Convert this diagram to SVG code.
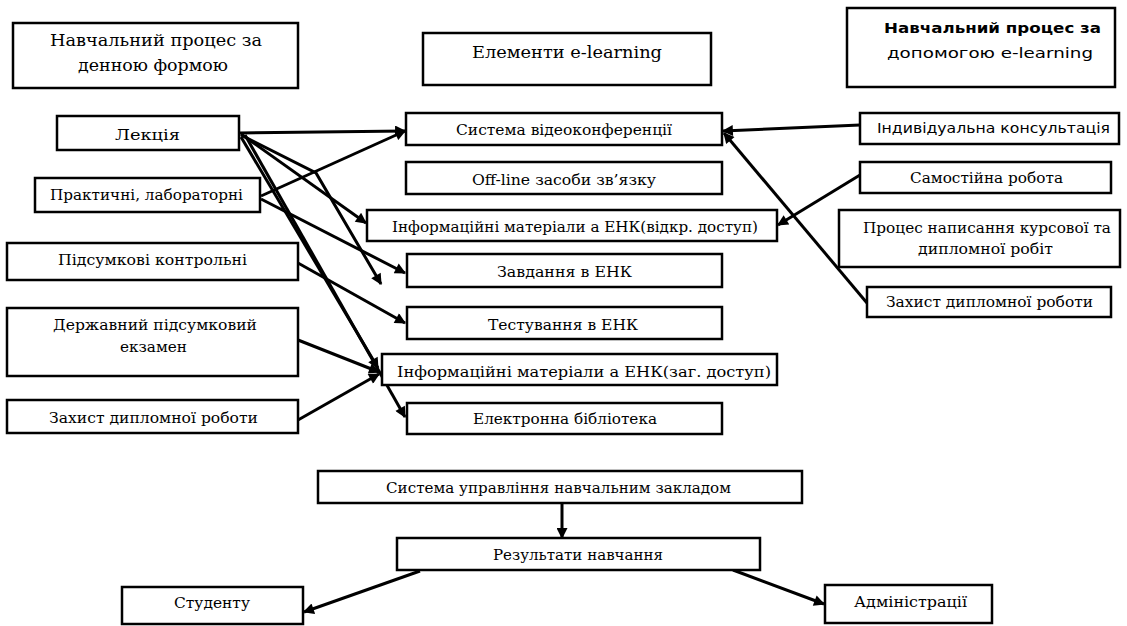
<svg xmlns="http://www.w3.org/2000/svg" width="1127" height="626" viewBox="0 0 1127 626">
<defs>
<style>
.b{fill:#fff;stroke:#000;stroke-width:2.5}
.t{font-family:'DejaVu Serif','Liberation Serif',serif;font-size:14.5px;fill:#000}
.h{font-family:'DejaVu Serif','Liberation Serif',serif;font-size:17.5px;fill:#000}
.s{font-family:'DejaVu Sans','Liberation Sans',sans-serif;font-size:14px;fill:#000}
.c{fill:none;stroke:#000;stroke-width:3;marker-end:url(#ah)}
</style>
<marker id="ah" viewBox="0 0 10 10" refX="9" refY="5" markerWidth="13" markerHeight="11" markerUnits="userSpaceOnUse" orient="auto"><path d="M0,0 L10,5 L0,10 z" fill="#000"/></marker>
</defs>
<rect width="1127" height="626" fill="#fff"/>

<g id="connectors">
<path class="c" d="M240,133 L405,131"/>
<path class="c" d="M261,196 L405,131"/>
<path class="c" d="M241,134 L366,223"/>
<path class="c" d="M241,135 L316,173 L381,284"/>
<path class="c" d="M241,137 L378,368"/>
<path class="c" d="M245,135 L405,417"/>
<path class="c" d="M261,199 L405,273"/>
<path class="c" d="M298,263 L405,323"/>
<path class="c" d="M298,340 L379,372"/>
<path class="c" d="M298,420 L379,374"/>
<path class="c" d="M860,125 L723,131"/>
<path class="c" d="M860,175 L778,225"/>
<path class="c" d="M867,303 L724,133"/>
<path class="c" d="M562,503 L562,538"/>
<path class="c" d="M420,571 L304,612"/>
<path class="c" d="M733,570 L824,604"/>
</g>

<g id="title-left"><rect class="b" x="13" y="23" width="285" height="65"/>
<text class="h" x="50" y="46" textLength="212" lengthAdjust="spacingAndGlyphs">Навчальний процес за</text>
<text class="h" x="78" y="71" textLength="150" lengthAdjust="spacingAndGlyphs">денною формою</text></g>

<g id="title-mid"><rect class="b" x="423" y="33" width="288" height="52"/>
<text class="h" x="472" y="58" textLength="190" lengthAdjust="spacingAndGlyphs">Елементи e-learning</text></g>

<g id="title-right"><rect class="b" x="847" y="8" width="268" height="79"/>
<text class="s" x="884" y="33" font-weight="bold" textLength="217" lengthAdjust="spacingAndGlyphs">Навчальний процес за</text>
<text class="s" x="887" y="58" textLength="206" lengthAdjust="spacingAndGlyphs">допомогою e-learning</text></g>

<g id="lektsiia"><rect class="b" x="57" y="116" width="182" height="34"/>
<text class="t" x="115" y="140" textLength="65" lengthAdjust="spacingAndGlyphs">Лекція</text></g>

<g id="praktychni"><rect class="b" x="35" y="178" width="225" height="34"/>
<text class="t" x="50" y="200" textLength="193" lengthAdjust="spacingAndGlyphs">Практичні, лабораторні</text></g>

<g id="pidsumkovi"><rect class="b" x="7" y="243" width="291" height="37"/>
<text class="t" x="58" y="265" textLength="189" lengthAdjust="spacingAndGlyphs">Підсумкові контрольні</text></g>

<g id="derzhavnyi"><rect class="b" x="7" y="308" width="291" height="68"/>
<text class="t" x="53" y="330" textLength="204" lengthAdjust="spacingAndGlyphs">Державний підсумковий</text>
<text class="t" x="120" y="352" textLength="67" lengthAdjust="spacingAndGlyphs">екзамен</text></g>

<g id="zakhyst-left"><rect class="b" x="7" y="400" width="291" height="33"/>
<text class="t" x="49" y="423" textLength="209" lengthAdjust="spacingAndGlyphs">Захист дипломної роботи</text></g>

<g id="videokonf"><rect class="b" x="406" y="113" width="316" height="32"/>
<text class="t" x="456" y="135" textLength="216" lengthAdjust="spacingAndGlyphs">Система відеоконференції</text></g>

<g id="offline"><rect class="b" x="406" y="162" width="316" height="32"/>
<text class="t" x="472" y="185" textLength="184" lengthAdjust="spacingAndGlyphs">Off-line засоби зв’язку</text></g>

<g id="info-vidkr"><rect class="b" x="367" y="210" width="410" height="31"/>
<text class="t" x="392" y="232" textLength="366" lengthAdjust="spacingAndGlyphs">Інформаційні матеріали а ЕНК(відкр. доступ)</text></g>

<g id="zavdannia"><rect class="b" x="407" y="254" width="315" height="33"/>
<text class="t" x="497" y="277" textLength="135" lengthAdjust="spacingAndGlyphs">Завдання в ЕНК</text></g>

<g id="testuvannia"><rect class="b" x="407" y="307" width="315" height="32"/>
<text class="t" x="488" y="330" textLength="150" lengthAdjust="spacingAndGlyphs">Тестування в ЕНК</text></g>

<g id="info-zag"><rect class="b" x="382" y="354" width="395" height="31"/>
<text class="t" x="397" y="377" textLength="374" lengthAdjust="spacingAndGlyphs">Інформаційні матеріали а ЕНК(заг. доступ)</text></g>

<g id="biblioteka"><rect class="b" x="407" y="403" width="315" height="31"/>
<text class="t" x="473" y="424" textLength="184" lengthAdjust="spacingAndGlyphs">Електронна бібліотека</text></g>

<g id="konsultatsiia"><rect class="b" x="860" y="113" width="259" height="31"/>
<text class="s" x="877" y="133" textLength="233" lengthAdjust="spacingAndGlyphs">Індивідуальна консультація</text></g>

<g id="samostiina"><rect class="b" x="860" y="162" width="251" height="31"/>
<text class="t" x="910" y="183" textLength="153" lengthAdjust="spacingAndGlyphs">Самостійна робота</text></g>

<g id="kursova"><rect class="b" x="839" y="210" width="281" height="57"/>
<text class="t" x="863" y="233" textLength="248" lengthAdjust="spacingAndGlyphs">Процес написання курсової та</text>
<text class="t" x="918" y="254" textLength="135" lengthAdjust="spacingAndGlyphs">дипломної робіт</text></g>

<g id="zakhyst-right"><rect class="b" x="867" y="287" width="244" height="30"/>
<text class="t" x="886" y="307" textLength="207" lengthAdjust="spacingAndGlyphs">Захист дипломної роботи</text></g>

<g id="systema-upr"><rect class="b" x="318" y="471" width="484" height="32"/>
<text class="t" x="386" y="493" textLength="345" lengthAdjust="spacingAndGlyphs">Система управління навчальним закладом</text></g>

<g id="rezultaty"><rect class="b" x="397" y="538" width="363" height="32"/>
<text class="t" x="493" y="560" textLength="170" lengthAdjust="spacingAndGlyphs">Результати навчання</text></g>

<g id="studentu"><rect class="b" x="122" y="587" width="181" height="37"/>
<text class="t" x="174" y="608" textLength="76" lengthAdjust="spacingAndGlyphs">Студенту</text></g>

<g id="administratsii"><rect class="b" x="825" y="585" width="167" height="38"/>
<text class="t" x="854" y="607" textLength="113" lengthAdjust="spacingAndGlyphs">Адміністрації</text></g>
</svg>
